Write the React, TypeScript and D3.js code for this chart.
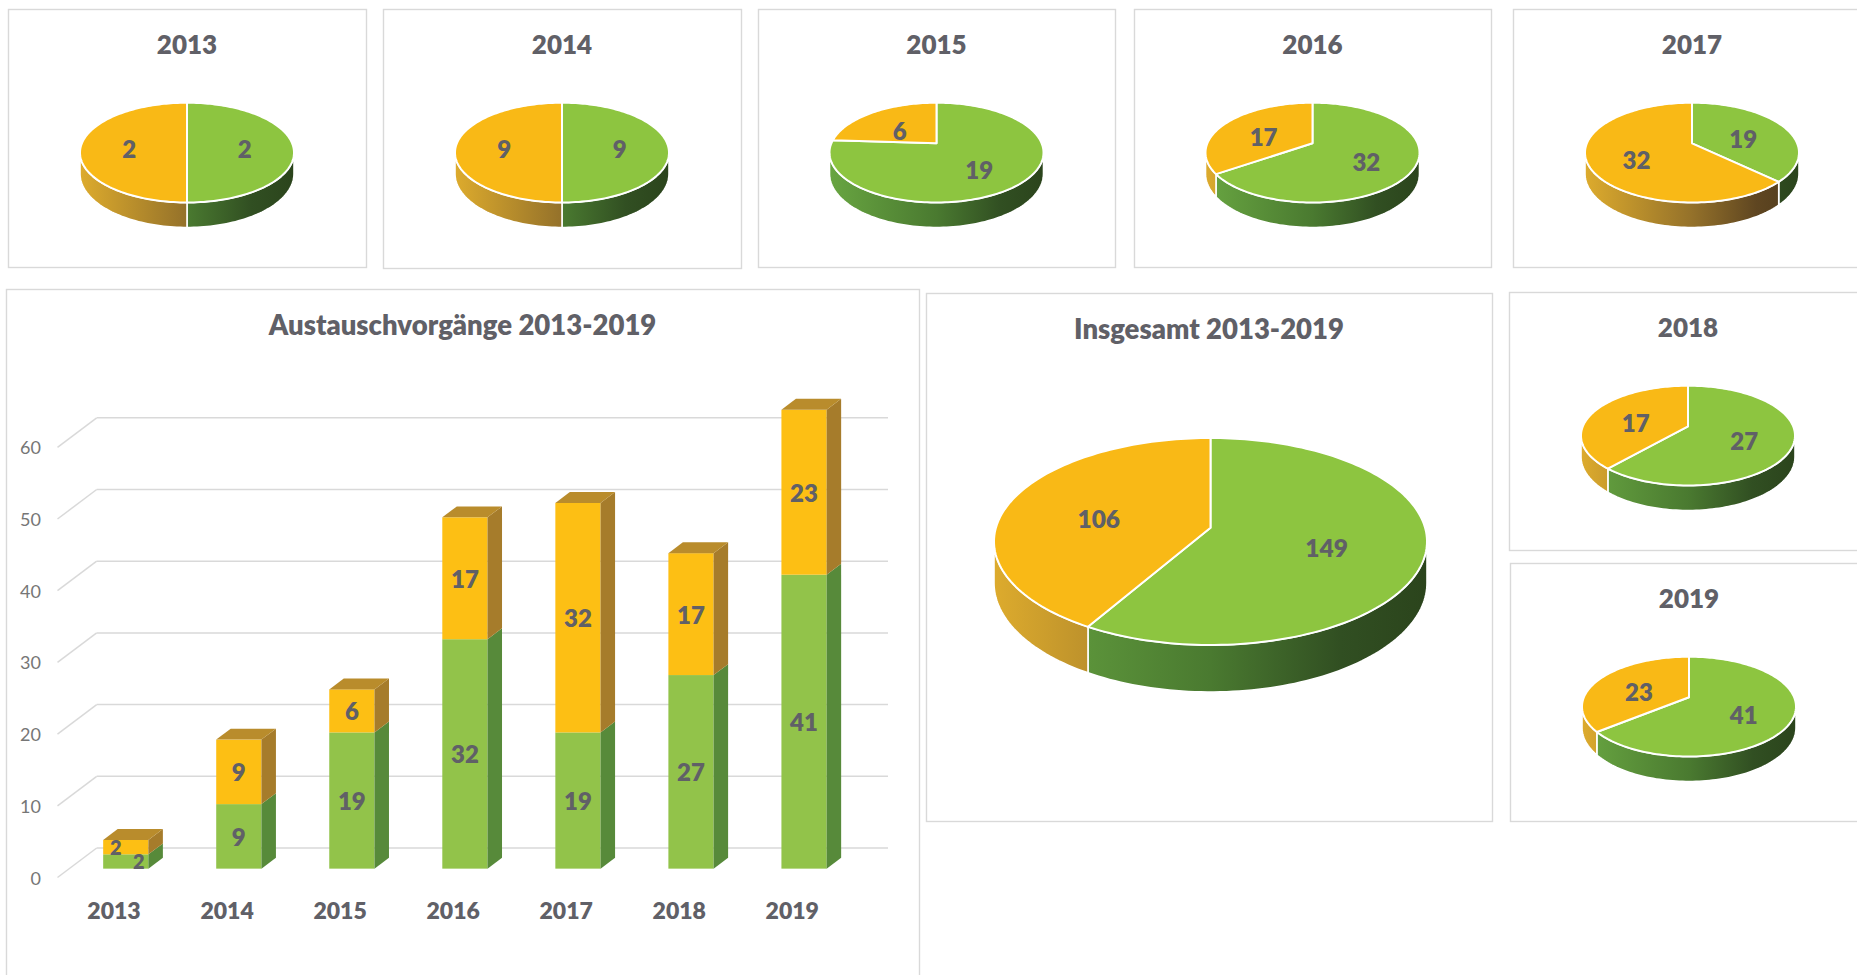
import React from "react";
import * as d3 from "d3";

// ---------- data ----------
const years = ["2013", "2014", "2015", "2016", "2017", "2018", "2019"];
const greenValues = [2, 9, 19, 32, 19, 27, 41];
const yellowValues = [2, 9, 6, 17, 32, 17, 23];
const yTicks = [0, 10, 20, 30, 40, 50, 60];
const barTitle = "Austauschvorgänge 2013-2019";
const totalTitle = "Insgesamt 2013-2019";
const seriesKeys = ["green", "yellow"];

// ---------- styles ----------
const FONT = "Lato, 'Open Sans', 'DejaVu Sans', sans-serif";
const TEXT = "#606067";
const AXIS_TEXT = "#767676";
const GRID = "#d9d9d9";
const BORDER = "#d9d9d9";
const BOLD = 800;
const TOP_COL = ["#8dc540", "#f9b916"];
const SIDE_STOPS = [
  [
    [0, "#68a541"],
    [0.5, "#4a7a30"],
    [0.8, "#314f22"],
    [1, "#2b441c"],
  ],
  [
    [0, "#ddab2d"],
    [0.5, "#94712a"],
    [0.8, "#5f4621"],
    [1, "#503b1c"],
  ],
];
const BAR_FRONT = ["#92c34a", "#fdbf14"];
const BAR_SIDE = ["#578a3a", "#a67c2b"];
const BAR_TOP = "#b98c2c";

// ---------- layout ----------
const smallPanels = [
  { year: "2013", x: 8, y: 9, w: 358, h: 258 },
  { year: "2014", x: 383, y: 9, w: 358, h: 259 },
  { year: "2015", x: 758, y: 9, w: 357, h: 258 },
  { year: "2016", x: 1134, y: 9, w: 357, h: 258 },
  { year: "2017", x: 1513, y: 9, w: 358, h: 258 },
  { year: "2018", x: 1509, y: 292, w: 358, h: 258 },
  { year: "2019", x: 1510, y: 563, w: 358, h: 258 },
];
const barPanel = { x: 6, y: 289, w: 913, h: 720 };
const totalPanel = { x: 926, y: 293, w: 566, h: 528 };

type PieProps = {
  id: string;
  cx: number;
  topY: number;
  apexY: number;
  bottomY: number;
  rx: number;
  depth: number;
  values: number[];
  labelSize: number;
};

function Pie3D({ id, cx, topY, apexY, bottomY, rx, depth, values, labelSize }: PieProps) {
  const k = (bottomY - apexY) / (apexY - topY);
  const p = (k - 1) / (k + 1);
  const B = (apexY - topY) * (1 + p);
  const A = rx * Math.sqrt(1 - p * p);
  const proj = (t: number, r: number): [number, number] => {
    const X = r * Math.sin(t);
    const Z = r * Math.cos(t);
    const w = 1 + p * Z;
    return [cx + (A * X) / w, apexY - (B * Z) / w];
  };
  const sample = (a0: number, a1: number) => {
    const n = Math.max(2, Math.ceil((a1 - a0) / (Math.PI / 120)));
    return d3.range(n + 1).map((i) => a0 + ((a1 - a0) * i) / n);
  };
  const arcs = d3
    .pie<number>()
    .sort(null)
    .value((d) => d)(values);
  const vis0 = Math.acos(-p);
  const vis1 = 2 * Math.PI - vis0;
  const line = d3.line();

  const sides: { d: string; i: number }[] = [];
  const tops: { d: string; i: number }[] = [];
  const labels: { x: number; y: number; v: number }[] = [];
  arcs.forEach((a, i) => {
    const s0 = Math.max(a.startAngle, vis0);
    const s1 = Math.min(a.endAngle, vis1);
    if (s1 > s0) {
      const ts = sample(s0, s1);
      const upper = ts.map((t) => proj(t, 1));
      const lower = ts
        .slice()
        .reverse()
        .map((t) => {
          const [x, y] = proj(t, 1);
          const w = 1 + p * Math.cos(t);
          return [x, y + (depth * (1 - p)) / w] as [number, number];
        });
      sides.push({ d: line([...upper, ...lower])! + "Z", i });
    }
    const rim = sample(a.startAngle, a.endAngle).map((t) => proj(t, 1));
    tops.push({ d: line([[cx, apexY], ...rim])! + "Z", i });
    const mid = (a.startAngle + a.endAngle) / 2;
    const [lx, ly] = proj(mid, 0.55);
    labels.push({ x: lx, y: ly + 5, v: a.data });
  });

  return (
    <g>
      <defs>
        {SIDE_STOPS.map((stops, i) => (
          <linearGradient
            key={i}
            id={`${id}-side-${i}`}
            gradientUnits="userSpaceOnUse"
            x1={cx - rx}
            x2={cx + rx}
            y1={0}
            y2={0}
          >
            {stops.map(([o, c]) => (
              <stop key={o as number} offset={o as number} stopColor={c as string} />
            ))}
          </linearGradient>
        ))}
      </defs>
      {sides.map((s, j) => (
        <path
          key={"s" + j}
          d={s.d}
          fill={`url(#${id}-side-${s.i})`}
          stroke="#ffffff"
          strokeWidth={1.6}
          strokeLinejoin="round"
        />
      ))}
      {tops.map((s, j) => (
        <path
          key={"t" + j}
          d={s.d}
          fill={TOP_COL[s.i]}
          stroke="#ffffff"
          strokeWidth={2}
          strokeLinejoin="round"
        />
      ))}
      {labels.map((l, j) => (
        <text
          key={"l" + j}
          x={l.x}
          y={l.y}
          textAnchor="middle"
          dominantBaseline="central"
          fontFamily={FONT}
          fontWeight={BOLD}
          fontSize={labelSize}
          fill={TEXT}
        >
          {l.v}
        </text>
      ))}
    </g>
  );
}

function Panel({
  x,
  y,
  w,
  h,
  title,
  size,
}: {
  x: number;
  y: number;
  w: number;
  h: number;
  title: string;
  size: number;
}) {
  return (
    <g>
      <rect x={x + 0.5} y={y + 0.5} width={w} height={h} fill="#ffffff" stroke={BORDER} strokeWidth={1.4} />
      <text
        x={x + w / 2}
        y={y + 35}
        textAnchor="middle"
        dominantBaseline="central"
        fontFamily={FONT}
        fontWeight={BOLD}
        fontSize={size}
        fill={TEXT}
      >
        {title}
      </text>
    </g>
  );
}

function BarChart3D() {
  const DX = 39.2;
  const DY = -29.5;
  const z0 = 0.3;
  const z1 = 0.67;
  const x = d3
    .scaleBand<string>()
    .domain(years)
    .range([57.5, 848.8])
    .paddingInner(0.6)
    .paddingOuter(0.3);
  const y = d3.scaleLinear().domain([0, 60]).range([877.5, 447.3]);
  const rows = years.map((yr, i) => ({ year: yr, green: greenValues[i], yellow: yellowValues[i] }));
  const stacked = d3.stack<any>().keys(seriesKeys)(rows);
  const bw = x.bandwidth();
  const backRight = 888;
  const lastSeries = stacked.length - 1;

  return (
    <g>
      {yTicks.map((t) => (
        <g key={t}>
          <line x1={57.5} y1={y(t)} x2={57.5 + DX} y2={y(t) + DY} stroke={GRID} strokeWidth={1.5} />
          <line x1={57.5 + DX} y1={y(t) + DY} x2={backRight} y2={y(t) + DY} stroke={GRID} strokeWidth={1.5} />
          <text
            x={41}
            y={y(t)}
            textAnchor="end"
            dominantBaseline="central"
            fontFamily={FONT}
            fontSize={18}
            fill={AXIS_TEXT}
          >
            {t}
          </text>
        </g>
      ))}
      {years.map((yr, i) => {
        const x0 = x(yr)!;
        const fx = x0 + z0 * DX;
        const bx = x0 + z1 * DX;
        const pieces = stacked.map((s, si) => {
          const [v0, v1] = s[i];
          const yf0 = y(v0) + z0 * DY;
          const yf1 = y(v1) + z0 * DY;
          const yb0 = y(v0) + z1 * DY;
          const yb1 = y(v1) + z1 * DY;
          return (
            <g key={si}>
              <rect x={fx} y={yf1} width={bw} height={yf0 - yf1} fill={BAR_FRONT[si]} />
              <path
                d={`M${fx + bw},${yf0}L${fx + bw},${yf1}L${bx + bw},${yb1}L${bx + bw},${yb0}Z`}
                fill={BAR_SIDE[si]}
              />
            </g>
          );
        });
        const topV = stacked[lastSeries][i][1];
        const ytf = y(topV) + z0 * DY;
        const ytb = y(topV) + z1 * DY;
        return (
          <g key={yr}>
            {pieces}
            <path
              d={`M${fx},${ytf}L${fx + bw},${ytf}L${bx + bw},${ytb}L${bx},${ytb}Z`}
              fill={BAR_TOP}
            />
            {stacked.map((s, si) => {
              const [v0, v1] = s[i];
              const segH = y(v0) - y(v1);
              // small segments: labels nudged sideways so they do not collide
              const shift = segH < 22 ? (si === 0 ? 13 : -10) : 0;
              return (
                <text
                  key={"v" + si}
                  x={fx + bw / 2 + shift}
                  y={y((v0 + v1) / 2) + z0 * DY}
                  textAnchor="middle"
                  dominantBaseline="central"
                  fontFamily={FONT}
                  fontWeight={BOLD}
                  fontSize={segH < 22 ? 20 : 24}
                  fill={TEXT}
                >
                  {v1 - v0}
                </text>
              );
            })}
            <text
              x={x0 + bw / 2}
              y={909.5}
              textAnchor="middle"
              dominantBaseline="central"
              fontFamily={FONT}
              fontWeight={BOLD}
              fontSize={23}
              fill={TEXT}
            >
              {yr}
            </text>
          </g>
        );
      })}
    </g>
  );
}

export default function App() {
  const totalGreen = d3.sum(greenValues);
  const totalYellow = d3.sum(yellowValues);
  return (
    <svg
      width={1857}
      height={975}
      viewBox="0 0 1857 975"
      style={{ position: "absolute", left: 0, top: 0, background: "#ffffff" }}
    >
      <rect x={0} y={0} width={1857} height={975} fill="#ffffff" />
      {smallPanels.map((pn) => {
        const idx = years.indexOf(pn.year);
        return (
          <g key={pn.year}>
            <Panel x={pn.x} y={pn.y} w={pn.w} h={pn.h} title={pn.year} size={26} />
            <Pie3D
              id={"pie" + pn.year}
              cx={pn.x + pn.w / 2}
              topY={pn.y + 93.7}
              apexY={pn.y + 134.3}
              bottomY={pn.y + 193.5}
              rx={107}
              depth={25}
              values={[greenValues[idx], yellowValues[idx]]}
              labelSize={24}
            />
          </g>
        );
      })}
      <Panel x={barPanel.x} y={barPanel.y} w={barPanel.w} h={barPanel.h} title={barTitle} size={27.5} />
      <BarChart3D />
      <Panel x={totalPanel.x} y={totalPanel.y} w={totalPanel.w} h={totalPanel.h} title={totalTitle} size={27.5} />
      <Pie3D
        id="pieTotal"
        cx={totalPanel.x + totalPanel.w / 2 + 1.5}
        topY={totalPanel.y + 145}
        apexY={totalPanel.y + 234.7}
        bottomY={totalPanel.y + 352}
        rx={216.5}
        depth={47}
        values={[totalGreen, totalYellow]}
        labelSize={24.5}
      />
    </svg>
  );
}
